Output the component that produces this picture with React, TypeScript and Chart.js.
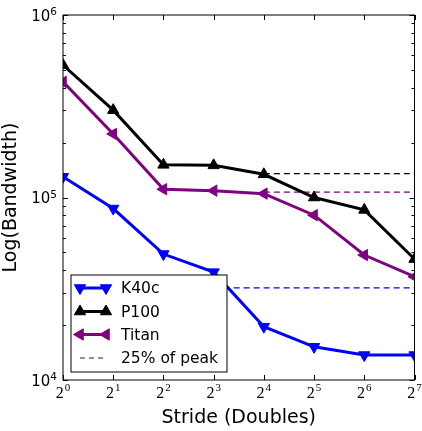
import React, { useEffect, useRef } from "react";
import { Chart, registerables } from "chart.js";
Chart.register(...registerables);

const strides = [1, 2, 4, 8, 16, 32, 64, 128];
const strideExponents = ["0", "1", "2", "3", "4", "5", "6", "7"];
const k40c = [130000, 87000, 49000, 39000, 19600, 15200, 13700, 13700];
const p100 = [532000, 301000, 151000, 150000, 134000, 100000, 85500, 46000];
const titan = [430000, 223000, 111000, 109000, 105000, 80000, 48400, 36800];
const k40cQuarter = [32000, 32000];
const p100Quarter = [135000, 135000];
const titanQuarter = [107000, 107000];
const k40cQuarterX = [8, 128];
const p100QuarterX = [16, 128];
const titanQuarterX = [16, 128];
const yMajorValues = [1e4, 1e5, 1e6];
const yMajorExponents = ["4", "5", "6"];
const yMinorValues = [2e4, 3e4, 4e4, 5e4, 6e4, 7e4, 8e4, 9e4, 2e5, 3e5, 4e5, 5e5, 6e5, 7e5, 8e5, 9e5];
const seriesNames = ["K40c", "P100", "Titan"];
const dashedLabel = "25% of peak";
const xTitle = "Stride (Doubles)";
const yTitle = "Log(Bandwidth)";

const BLUE = "#0000ff";
const BLACK = "#000000";
const PURPLE = "#800080";

function tri(ctx: CanvasRenderingContext2D, x: number, y: number, r: number, rotDeg: number, color: string) {
  let rad = (rotDeg * Math.PI) / 180;
  ctx.beginPath();
  ctx.moveTo(x + Math.sin(rad) * r, y - Math.cos(rad) * r);
  rad += (2 * Math.PI) / 3;
  ctx.lineTo(x + Math.sin(rad) * r, y - Math.cos(rad) * r);
  rad += (2 * Math.PI) / 3;
  ctx.lineTo(x + Math.sin(rad) * r, y - Math.cos(rad) * r);
  ctx.closePath();
  ctx.fillStyle = color;
  ctx.strokeStyle = color;
  ctx.lineWidth = 1;
  ctx.setLineDash([]);
  ctx.fill();
  ctx.stroke();
}

const decor = {
  id: "decor",
  afterDatasetsDraw(chart: any) {
    const { ctx, chartArea: a, scales } = chart;
    const xs = scales.x;
    const ys = scales.y;
    ctx.save();
    ctx.strokeStyle = "#000";
    ctx.lineWidth = 1;
    ctx.setLineDash([]);
    const seg = (x1: number, y1: number, x2: number, y2: number) => {
      ctx.beginPath();
      ctx.moveTo(x1, y1);
      ctx.lineTo(x2, y2);
      ctx.stroke();
    };
    strides.forEach((s) => {
      const px = Math.round(xs.getPixelForValue(s)) + 0.5;
      seg(px, a.bottom, px, a.bottom - 5);
      seg(px, a.top, px, a.top + 5);
    });
    yMajorValues.forEach((v) => {
      const py = Math.round(ys.getPixelForValue(v)) + 0.5;
      seg(a.left, py, a.left + 5, py);
      seg(a.right, py, a.right - 5, py);
    });
    yMinorValues.forEach((v) => {
      const py = Math.round(ys.getPixelForValue(v)) + 0.5;
      seg(a.left, py, a.left + 3, py);
      seg(a.right, py, a.right - 3, py);
    });
    ctx.strokeRect(a.left, a.top, a.right - a.left, a.bottom - a.top);

    ctx.fillStyle = "#000";
    ctx.textBaseline = "alphabetic";
    ctx.textAlign = "left";
    strides.forEach((s, i) => {
      const px = xs.getPixelForValue(s);
      ctx.font = "16px 'Liberation Serif'";
      const wb = ctx.measureText("2").width;
      ctx.font = "11px 'Liberation Serif'";
      const we = ctx.measureText(strideExponents[i]).width;
      const x0 = px - (wb + we + 1) / 2;
      ctx.font = "16px 'Liberation Serif'";
      ctx.fillText("2", x0, a.bottom + 18);
      ctx.font = "11px 'Liberation Serif'";
      ctx.fillText(strideExponents[i], x0 + wb + 1, a.bottom + 11);
    });
    yMajorValues.forEach((v, i) => {
      const py = ys.getPixelForValue(v);
      ctx.font = "10.5px 'DejaVu Sans'";
      const we = ctx.measureText(yMajorExponents[i]).width;
      ctx.font = "15px 'DejaVu Sans'";
      const wb = ctx.measureText("10").width;
      const right = a.left - 6;
      ctx.fillText("10", right - we - wb, py + 5.5);
      ctx.font = "10.5px 'DejaVu Sans'";
      ctx.fillText(yMajorExponents[i], right - we, py);
    });
    ctx.font = "19px 'DejaVu Sans'";
    ctx.textAlign = "center";
    ctx.fillText(xTitle, (a.left + a.right) / 2, 423);
    ctx.save();
    ctx.translate(16, (a.top + a.bottom) / 2);
    ctx.rotate(-Math.PI / 2);
    ctx.fillText(yTitle, 0, 0);
    ctx.restore();
    ctx.restore();
  },
  afterDraw(chart: any) {
    const { ctx } = chart;
    ctx.save();
    const bx = 71, by = 275, bw = 156, bh = 97;
    ctx.fillStyle = "#fff";
    ctx.fillRect(bx, by, bw, bh);
    ctx.strokeStyle = "#000";
    ctx.lineWidth = 1;
    ctx.setLineDash([]);
    ctx.strokeRect(bx, by, bw, bh);
    const rows = [288, 311.5, 334.5, 357.5];
    const colors = [BLUE, BLACK, PURPLE];
    const rots = [180, 0, 270];
    const hx1 = 80, hx2 = 106;
    for (let i = 0; i < 3; i++) {
      ctx.strokeStyle = colors[i];
      ctx.lineWidth = 3;
      ctx.beginPath();
      ctx.moveTo(hx1, rows[i]);
      ctx.lineTo(hx2, rows[i]);
      ctx.stroke();
      tri(ctx, hx1, rows[i], 6.5, rots[i], colors[i]);
      tri(ctx, hx2, rows[i], 6.5, rots[i], colors[i]);
    }
    ctx.strokeStyle = "#222";
    ctx.lineWidth = 1;
    ctx.setLineDash([5, 4]);
    ctx.beginPath();
    ctx.moveTo(hx1, rows[3] + 0.5);
    ctx.lineTo(hx2 - 1, rows[3] + 0.5);
    ctx.stroke();
    ctx.setLineDash([]);
    ctx.fillStyle = "#000";
    ctx.font = "15.5px 'DejaVu Sans'";
    ctx.textAlign = "left";
    ctx.textBaseline = "middle";
    const labels = [...seriesNames, dashedLabel];
    labels.forEach((l, i) => ctx.fillText(l, 121, rows[i] + 1));
    ctx.restore();
  },
};

export default function App() {
  const ref = useRef<HTMLCanvasElement | null>(null);
  useEffect(() => {
    if (!ref.current) return;
    const pts = (xv: number[], yv: number[]) => xv.map((x, i) => ({ x, y: yv[i] }));
    const solid = (label: string, data: number[], color: string, rot: number, order: number) => ({
      label,
      data: pts(strides, data),
      borderColor: color,
      backgroundColor: color,
      borderWidth: 3,
      pointStyle: "triangle",
      pointRotation: rot,
      pointRadius: 6.5,
      pointBorderWidth: 1,
      pointBackgroundColor: color,
      pointBorderColor: color,
      tension: 0,
      clip: 0,
      order,
    });
    const dashed = (xv: number[], yv: number[], color: string) => ({
      label: dashedLabel,
      data: pts(xv, yv),
      borderColor: color,
      borderWidth: 1.2,
      borderDash: [6, 4],
      pointRadius: 0,
      tension: 0,
      clip: 0,
      order: 10,
    });
    const chart = new Chart(ref.current, {
      type: "line",
      data: {
        datasets: [
          solid(seriesNames[0], k40c, BLUE, 180, 3),
          solid(seriesNames[1], p100, BLACK, 0, 2),
          solid(seriesNames[2], titan, PURPLE, 270, 1),
          dashed(k40cQuarterX, k40cQuarter, BLUE),
          dashed(p100QuarterX, p100Quarter, BLACK),
          dashed(titanQuarterX, titanQuarter, PURPLE),
        ] as any,
      },
      options: {
        responsive: false,
        animation: false,
        devicePixelRatio: 1,
        layout: { padding: { left: 63, top: 15, right: 6, bottom: 51 } },
        scales: {
          x: { type: "logarithmic", min: 1, max: 128, display: false },
          y: { type: "logarithmic", min: 1e4, max: 1e6, display: false },
        },
        plugins: { legend: { display: false }, tooltip: { enabled: false } },
      },
      plugins: [decor],
    });
    return () => chart.destroy();
  }, []);
  return (
    <div style={{ position: "fixed", left: 0, top: 0, width: 422, height: 431, background: "#fff" }}>
      <canvas ref={ref} width={422} height={431} style={{ width: 422, height: 431, display: "block" }} />
    </div>
  );
}
